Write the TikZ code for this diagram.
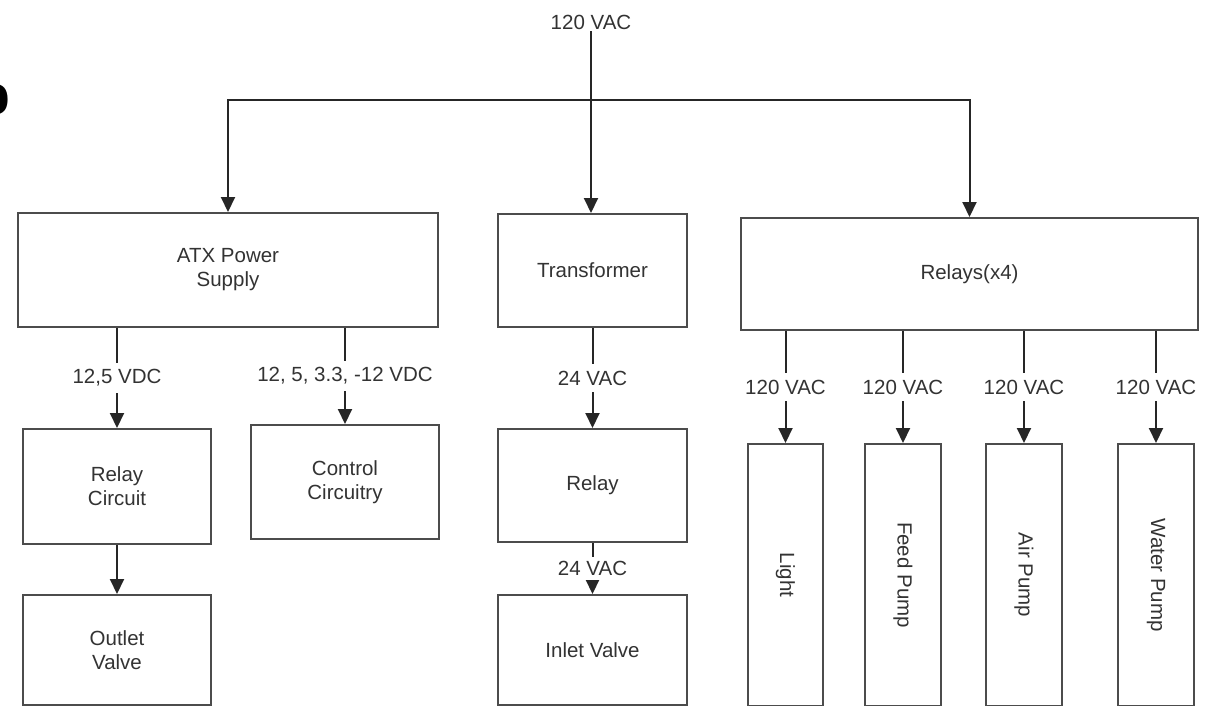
\documentclass[tikz,border=0pt]{standalone}
\usepackage{fontspec}
\usepackage{graphicx}
\setmainfont{Liberation Sans}
\newfontfamily\serifo{Liberation Serif}
\usetikzlibrary{arrows.meta}
\begin{document}
\begin{tikzpicture}[x=1pt,y=-1pt,
 txt/.style={text=black!80, font=\fontsize{20.5}{24}\selectfont},
 box/.style={txt, draw=black!70, line width=2pt, align=center, inner sep=0pt, anchor=north west},
 lab/.style={txt, fill=white, inner xsep=2pt, inner ysep=7pt},
 wire/.style={draw=black!85, line width=2pt},
 arr/.style={wire, -{Triangle[length=15pt,width=14pt]}}]
\useasboundingbox (0,0) rectangle (1208,705);
\clip (0,0) rectangle (1208,705);
\fill[white] (0,0) rectangle (1208,705);
% partial glyph at left edge
\node[font=\serifo\bfseries\fontsize{64}{64}\selectfont, text=black, anchor=east, inner sep=0pt] (o) at (11,100) {o};
% top source
\node[txt, inner sep=2pt] (src) at (591,22) {120 VAC};
\coordinate (j) at (591,100);
% boxes
\node[box, minimum width=420pt, minimum height=114pt] (atx) at (17,212) {ATX Power\\Supply};
\node[box, minimum width=189pt, minimum height=113pt] (tr) at (497,213) {Transformer};
\node[box, minimum width=457pt, minimum height=112pt] (rl) at (740,217) {Relays(x4)};
\node[box, minimum width=188pt, minimum height=115pt] (rc) at (22,428) {Relay\\Circuit};
\node[box, minimum width=188pt, minimum height=114pt] (cc) at (250,424) {Control\\Circuitry};
\node[box, minimum width=188pt, minimum height=110pt] (ov) at (22,594) {Outlet\\Valve};
\node[box, minimum width=189pt, minimum height=113pt] (ry) at (497,428) {Relay};
\node[box, minimum width=189pt, minimum height=110pt] (iv) at (497,594) {Inlet Valve};
\node[box, minimum width=75pt, minimum height=262pt] (lt) at (747,443) {\rotatebox{-90}{Light}};
\node[box, minimum width=76pt, minimum height=262pt] (fp) at (864,443) {\rotatebox{-90}{Feed Pump}};
\node[box, minimum width=76pt, minimum height=262pt] (ap) at (985,443) {\rotatebox{-90}{Air Pump}};
\node[box, minimum width=76pt, minimum height=262pt] (wp) at (1117,443) {\rotatebox{-90}{Water Pump}};
% top distribution
\draw[wire] (src.south) -- (j);
\draw[arr] (j) -| (atx.north);
\draw[arr] (j) -- (j |- tr.north);
\draw[arr] (j) -| (rl.north);
% ATX outputs
\draw[arr] (atx.south -| rc.north) -- node[lab] {12,5 VDC} (rc.north);
\draw[arr] (atx.south -| cc.north) -- node[lab] {12, 5, 3.3, -12 VDC} (cc.north);
\draw[arr] (rc.south) -- (ov.north);
% transformer chain
\draw[arr] (tr.south) -- node[lab] {24 VAC} (ry.north);
\draw[arr] (ry.south) -- node[lab, inner ysep=4pt] {24 VAC} (iv.north);
% relays outputs
\draw[arr] (rl.south -| lt.north) -- node[lab] {120 VAC} (lt.north);
\draw[arr] (rl.south -| fp.north) -- node[lab] {120 VAC} (fp.north);
\draw[arr] (rl.south -| ap.north) -- node[lab] {120 VAC} (ap.north);
\draw[arr] (rl.south -| wp.north) -- node[lab] {120 VAC} (wp.north);
\end{tikzpicture}
\end{document}
